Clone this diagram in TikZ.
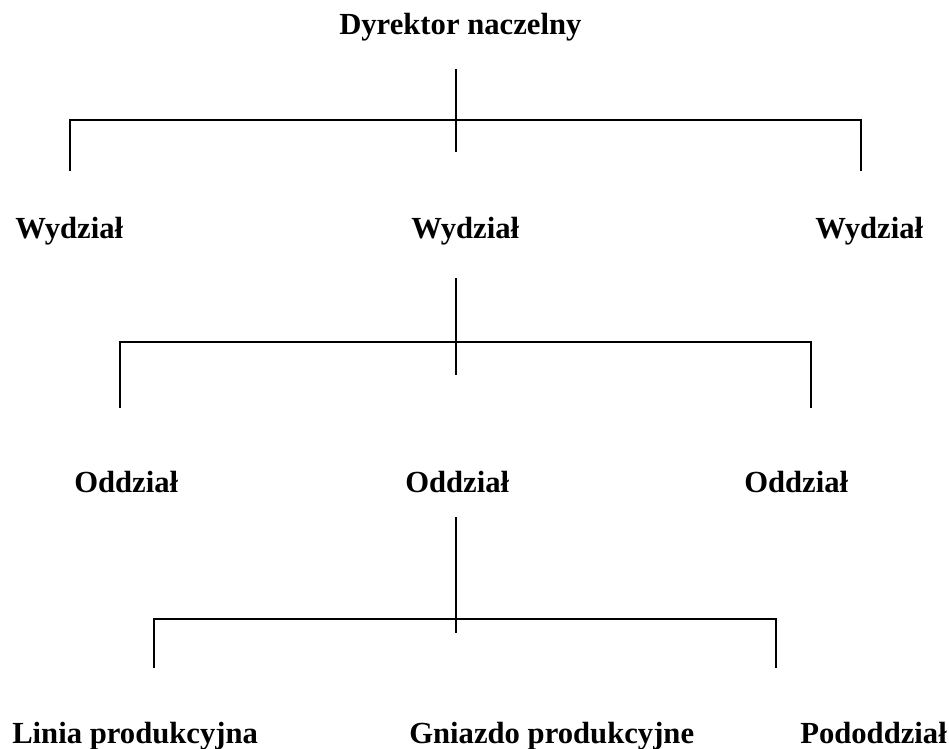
\documentclass[tikz,border=0pt]{standalone}
\usepackage{fontspec}
\setmainfont{Liberation Serif}
\usepackage{tikz}
\usetikzlibrary{positioning}

\tikzset{
	lbl/.style = {anchor=base west, inner sep=0pt, font=\fontsize{23pt}{27pt}\selectfont\bfseries},
	ln/.style = {line width=1pt, black}
}

\begin{document}
\begin{tikzpicture}[x=0.75pt, y=-0.75pt]
		\useasboundingbox (0,0) rectangle (949,749);
		% level 0
		\node [lbl](dyr) at (339,35) {Dyrektor naczelny};
		\coordinate (dtop) at (456,69);
		\coordinate (dbot) at (456,152);
		\coordinate (dl) at (70,171);
		\coordinate (dr) at (861,171);
		\draw [ln] (dtop) -- (dbot);
		\draw [ln] (dl) |- (456,120) -| (dr);
		% level 1
		\node [lbl](wyd1) at (15,238) {Wydział};
		\node [lbl](wyd2) at (411,238) {Wydział};
		\node [lbl](wyd3) at (815,238) {Wydział};
		\coordinate (wtop) at (456,278);
		\coordinate (wbot) at (456,375);
		\coordinate (wl) at (120,408);
		\coordinate (wr) at (811,408);
		\draw [ln] (wtop) -- (wbot);
		\draw [ln] (wl) |- (456,342) -| (wr);
		% level 2
		\node [lbl](odd1) at (74,492) {Oddział};
		\node [lbl](odd2) at (405,492) {Oddział};
		\node [lbl](odd3) at (744,492) {Oddział};
		\coordinate (otop) at (456,517);
		\coordinate (obot) at (456,633);
		\coordinate (ol) at (154,668);
		\coordinate (or) at (776,668);
		\draw [ln] (otop) -- (obot);
		\draw [ln] (ol) |- (456,619) -| (or);
		% level 3
		\node [lbl](linia) at (12,743) {Linia produkcyjna};
		\node [lbl](gniazdo) at (409,743) {Gniazdo produkcyjne};
		\node [lbl](podo) at (800,743) {Pododdział};
\end{tikzpicture}
\end{document}
